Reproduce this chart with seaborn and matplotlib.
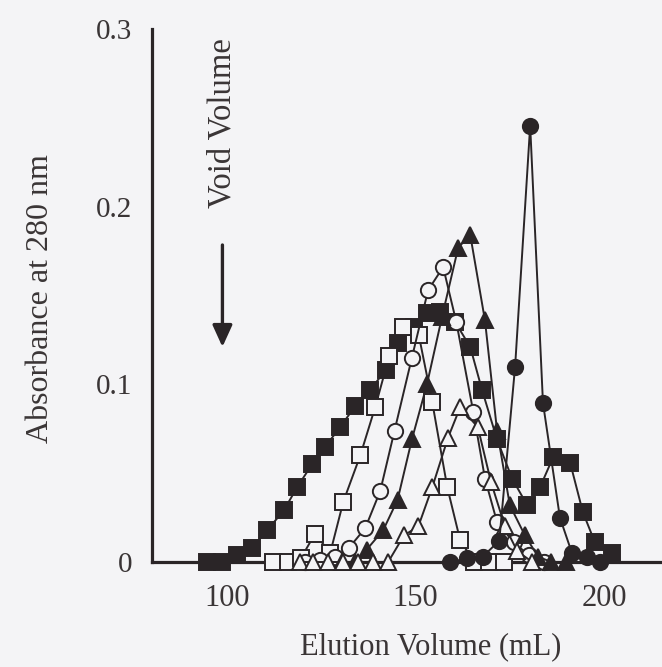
import matplotlib
matplotlib.use("Agg")
import matplotlib.pyplot as plt
import seaborn as sns
import pandas as pd

# elution profiles (mL, A280)
fsq_x = [94.7, 98.7, 102.6, 106.6, 110.6, 115, 118.5, 122.5, 126, 130, 134, 138, 142, 145.4,
         149.5, 153, 156.5, 160.5, 164.5, 167.6, 171.6, 175.6, 179.6, 183, 186.5, 191, 194.4, 197.6, 202]
fsq_y = [0, 0, 0.004, 0.008, 0.018, 0.029, 0.042, 0.055, 0.065, 0.076, 0.088, 0.097, 0.108, 0.123,
         0.132, 0.140, 0.141, 0.135, 0.121, 0.097, 0.069, 0.047, 0.032, 0.042, 0.059, 0.056, 0.028, 0.011, 0.005]

osq_x = [112, 116, 119.5, 123.3, 127.3, 130.8, 135.3, 139.3, 143, 146.6, 150.8, 154.4, 158.4,
         161.8, 165.5, 169.5, 173.5]
osq_y = [0, 0, 0.002, 0.016, 0.005, 0.034, 0.060, 0.0875, 0.116, 0.132, 0.128, 0.090, 0.042,
         0.0124, 0, 0, 0]

ocirc_x = [120.7, 124.7, 128.6, 132.3, 136.6, 140.6, 144.4, 149, 153.3, 157.3, 160.8, 165.3,
           168.4, 171.6, 176, 180, 184]
ocirc_y = [0, 0.001, 0.003, 0.008, 0.019, 0.040, 0.074, 0.115, 0.153, 0.166, 0.135, 0.0845,
           0.047, 0.0225, 0.011, 0.004, 0]

ftri_x = [130.5, 133.8, 137, 141.4, 145.2, 149, 153, 157, 161.3, 164.5, 168.4, 171.6, 175, 179,
          182.5, 186, 190]
ftri_y = [0, 0, 0.007, 0.018, 0.035, 0.069, 0.100, 0.138, 0.177, 0.184, 0.136, 0.074, 0.032,
          0.015, 0.003, 0, 0]

otri_x = [119.4, 122.8, 126.8, 130.8, 134.8, 138.7, 142.7, 146.9, 150.7, 154.4, 158.6, 161.8,
          166.5, 170, 173.7, 177, 181]
otri_y = [0, 0, 0, 0, 0, 0, 0, 0.015, 0.020, 0.042, 0.070, 0.087, 0.076, 0.045, 0.020, 0.006, 0]

fcirc_x = [159.2, 163.7, 167.8, 172.2, 176.4, 180.4, 183.8, 188.3, 191.5, 195.5, 199]
fcirc_y = [0, 0.002, 0.003, 0.012, 0.110, 0.2456, 0.0895, 0.025, 0.005, 0.003, 0]

x_ticks = [100, 150, 200]
y_ticks = [0, 0.1, 0.2, 0.3]
y_ticklabels = ["0", "0.1", "0.2", "0.3"]

ink = "#2a2527"
txt = "#3a3536"
bg = "#f4f4f6"

sns.set_theme(style="white")
plt.rcParams["font.family"] = ["Liberation Serif", "DejaVu Serif"]

fig = plt.figure(figsize=(6.62, 6.67), dpi=100)
fig.set_facecolor(bg)
ax = fig.add_axes([0.2296, 0.1574, 0.7704, 0.7991])
ax.set_facecolor(bg)

series = [
    (fsq_x, fsq_y, "s", ink, 11.5),
    (osq_x, osq_y, "s", bg, 11.5),
    (ocirc_x, ocirc_y, "o", bg, 11),
    (ftri_x, ftri_y, "^", ink, 12),
    (otri_x, otri_y, "^", bg, 12),
    (fcirc_x, fcirc_y, "o", ink, 11),
]
for i, (xs, ys, mk, face, ms) in enumerate(series):
    df = pd.DataFrame({"vol": xs, "abs": ys})
    sns.lineplot(data=df, x="vol", y="abs", ax=ax, color=ink, linewidth=1.4,
                 marker=mk, markersize=ms, markerfacecolor=face,
                 markeredgecolor=ink, markeredgewidth=1.4, clip_on=False, zorder=3 + i)

ax.set_xlim(80, 215.4)
ax.set_ylim(0, 0.3)
ax.set_xticks(x_ticks)
ax.set_yticks(y_ticks)
ax.set_yticklabels(y_ticklabels)
for s in ["top", "right"]:
    ax.spines[s].set_visible(False)
for s in ["left", "bottom"]:
    ax.spines[s].set_color(ink)
    ax.spines[s].set_linewidth(2.3)
ax.tick_params(axis="y", direction="in", length=12, width=2.3, color=ink,
               labelsize=21, labelcolor=txt, pad=14)
ax.tick_params(axis="x", direction="out", length=9, width=2.3, color=ink,
               labelsize=22, labelcolor=txt, pad=7)

ax.set_xlabel("Elution Volume (mL)", fontsize=22, color=txt)
ax.xaxis.set_label_coords(0.547, -0.132)
ax.set_ylabel("Absorbance at 280 nm", fontsize=23, color=txt)
ax.yaxis.set_label_coords(-0.19, 0.495)

# void volume marker
ax.text(98.7, 0.247, "Void Volume", rotation=90, fontsize=23.5, color=txt,
        ha="center", va="center")
ax.annotate("", xy=(98.7, 0.1195), xytext=(98.7, 0.18),
            arrowprops=dict(arrowstyle="-|>,head_length=1.1,head_width=0.5", color=ink, lw=2.4))

fig.savefig("out.png", dpi=100, facecolor=bg)
